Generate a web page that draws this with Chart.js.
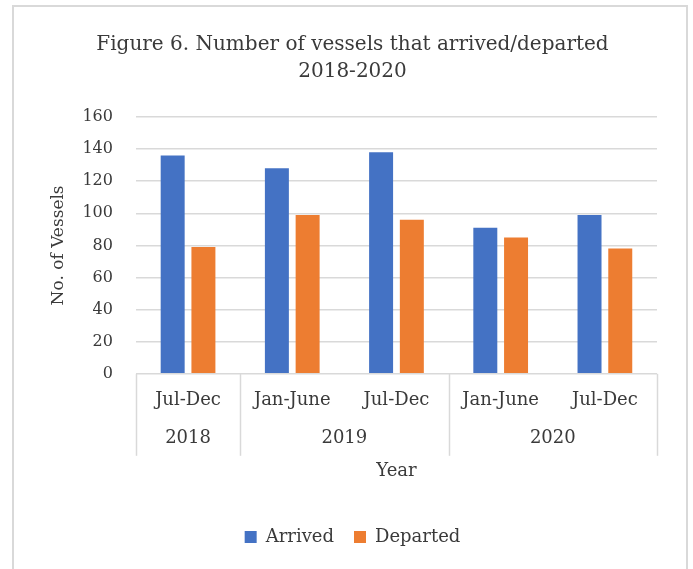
<!DOCTYPE html>
<html>
<head>
<meta charset="utf-8">
<script src="https://cdn.jsdelivr.net/npm/chart.js@4"></script>
<style>
  html, body { margin: 0; padding: 0; background: #fff; }
  #wrap { position: relative; width: 693px; height: 569px; overflow: hidden; }
  #frame { position: absolute; left: 12px; top: 5px; width: 672px; height: 600px;
           border: 2px solid #d9d9d9; pointer-events: none; }
  canvas { position: absolute; left: 0; top: 0; }
</style>
</head>
<body>
<div id="wrap">
  <canvas id="chart" width="693" height="569"></canvas>
  <div id="frame"></div>
</div>
<script>
// 데이터
const periods = ['Jul-Dec', 'Jan-June', 'Jul-Dec', 'Jan-June', 'Jul-Dec'];
const years = ['2018', '2019', '2019', '2020', '2020'];
const arrived = [136, 128, 138, 91, 99];
const departed = [79, 99, 96, 85, 78];
const yTicks = [0, 20, 40, 60, 80, 100, 120, 140, 160];

const FONT = "'DejaVu Serif', serif";
const TEXT = '#3a3a3a';
const GRID = '#d9d9d9';

// 연도 그룹 축 (2단 라벨)
const yearAxisPlugin = {
  id: 'yearAxis',
  afterDraw(chart) {
    const ctx = chart.ctx;
    const xs = chart.scales.x;
    const top = chart.chartArea.bottom;
    const bottom = top + 82;

    const groups = [];
    years.forEach((yr, i) => {
      const last = groups[groups.length - 1];
      if (last && last.year === yr) last.end = i;
      else groups.push({ year: yr, start: i, end: i });
    });

    const edge = (i) => {
      if (i <= 0) return xs.left;
      if (i >= years.length) return xs.right;
      return (xs.getPixelForValue(i - 1) + xs.getPixelForValue(i)) / 2;
    };

    ctx.save();
    ctx.strokeStyle = GRID;
    ctx.lineWidth = 1.5;
    const cuts = [0].concat(groups.map(g => g.end + 1));
    cuts.forEach(i => {
      const px = Math.round(edge(i)) + 0.5;
      ctx.beginPath();
      ctx.moveTo(px, top);
      ctx.lineTo(px, bottom);
      ctx.stroke();
    });

    ctx.fillStyle = TEXT;
    ctx.font = '18px ' + FONT;
    ctx.textAlign = 'center';
    ctx.textBaseline = 'middle';
    groups.forEach(g => {
      const cx = (edge(g.start) + edge(g.end + 1)) / 2;
      ctx.fillText(g.year, cx, top + 65);
    });
    ctx.restore();
  }
};

new Chart(document.getElementById('chart').getContext('2d'), {
  type: 'bar',
  data: {
    labels: periods,
    datasets: [
      { label: 'Arrived', data: arrived, backgroundColor: '#4472c4' },
      { label: 'Departed', data: departed, backgroundColor: '#ed7d31' }
    ]
  },
  options: {
    responsive: false,
    animation: false,
    devicePixelRatio: 1,
    categoryPercentage: 0.59,
    barPercentage: 0.78,
    layout: { padding: { left: 48, right: 36, top: 0, bottom: 13 } },
    plugins: {
      title: {
        display: true,
        text: ['Figure 6. Number of vessels that arrived/departed', '2018-2020'],
        color: TEXT,
        font: { family: FONT, size: 20, weight: 'normal', lineHeight: 1.35 },
        padding: { top: 31, bottom: 32 }
      },
      legend: {
        position: 'bottom',
        labels: {
          color: TEXT,
          font: { family: FONT, size: 18 },
          boxWidth: 12,
          boxHeight: 12,
          padding: 20
        }
      },
      tooltip: { enabled: false }
    },
    scales: {
      x: {
        grid: { display: false },
        border: { display: false },
        ticks: { color: TEXT, font: { family: FONT, size: 18 }, padding: 8, maxRotation: 0 },
        title: {
          display: true,
          text: 'Year',
          color: TEXT,
          font: { family: FONT, size: 18 },
          padding: { top: 41, bottom: 26 }
        }
      },
      y: {
        min: 0,
        max: 160,
        afterBuildTicks: (axis) => { axis.ticks = yTicks.map(v => ({ value: v })); },
        grid: { color: GRID, lineWidth: 1.5, drawTicks: false },
        border: { display: false },
        ticks: { color: TEXT, font: { family: FONT, size: 16 }, padding: 23 },
        title: {
          display: true,
          text: 'No. of Vessels',
          color: TEXT,
          font: { family: FONT, size: 17 },
          padding: { top: 0, bottom: -9 }
        }
      }
    }
  },
  plugins: [yearAxisPlugin]
});
</script>
</body>
</html>
